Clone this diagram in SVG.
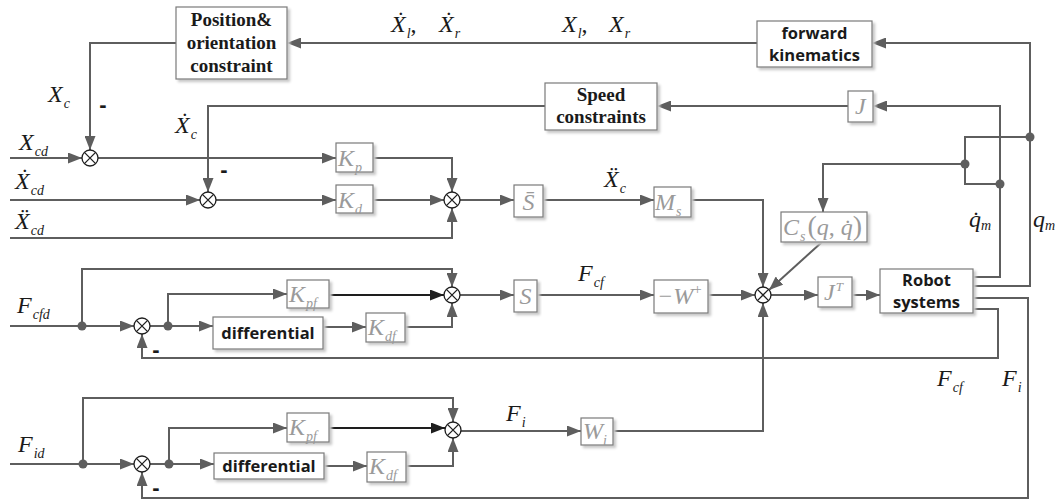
<svg xmlns="http://www.w3.org/2000/svg" width="1063" height="502" viewBox="0 0 1063 502">
  <style>
    .ln{fill:none;stroke:#5e5e5e;stroke-width:2}
    .lk{fill:none;stroke:#1e1e1e;stroke-width:2}
    .box{fill:#fff;stroke:#7a7a7a;stroke-width:1.2;filter:url(#sh)}
    .dot{fill:#5e5e5e}
    .tb{font-family:"Liberation Serif",serif;font-weight:700;font-size:19px;fill:#1a1a1a;text-anchor:middle}
    .ts{font-family:"Open Sans","Noto Sans",sans-serif;font-weight:700;font-size:16.5px;fill:#1a1a1a;text-anchor:middle}
    .m{font-family:"Liberation Serif",serif;font-style:italic;font-size:24px;fill:#1a1a1a}
    .g{font-family:"Liberation Serif",serif;font-style:italic;font-size:24px;fill:#9a9a9a}
    .sb{font-size:14px}
    .mn{font-family:"Liberation Sans",sans-serif;font-weight:700;font-size:22px;fill:#1a1a1a;text-anchor:middle}
  </style>
  <defs>
    <filter id="sh" x="-10%" y="-10%" width="130%" height="140%">
      <feDropShadow dx="2.5" dy="2.5" stdDeviation="0.8" flood-color="#c8c8c8" flood-opacity="1"/>
    </filter>
    <marker id="ar" viewBox="0 0 14 11" refX="14" refY="5.5" markerWidth="14" markerHeight="11" markerUnits="userSpaceOnUse" orient="auto">
      <path d="M0,0 L14,5.5 L0,11 z" fill="#5e5e5e"/>
    </marker>
    <marker id="ak" viewBox="0 0 14 11" refX="14" refY="5.5" markerWidth="14" markerHeight="11" markerUnits="userSpaceOnUse" orient="auto">
      <path d="M0,0 L14,5.5 L0,11 z" fill="#1e1e1e"/>
    </marker>
    <g id="sum">
      <circle r="8" fill="#fff" stroke="#1e1e1e" stroke-width="1.3"/>
      <path d="M-5.6,-5.6 L5.6,5.6 M-5.6,5.6 L5.6,-5.6" stroke="#1e1e1e" stroke-width="1.3"/>
    </g>
  </defs>

  <!-- connectors -->
  <g id="connectors">
    <path class="ln" d="M973,286 H1030 V43 H872" marker-end="url(#ar)"/>
    <path class="ln" d="M757,43 H287" marker-end="url(#ar)"/>
    <path class="ln" d="M176,43 H90 V150" marker-end="url(#ar)"/>
    <path class="ln" d="M10,158 H82" marker-end="url(#ar)"/>
    <path class="ln" d="M98,158 H336" marker-end="url(#ar)"/>
    <path class="ln" d="M373,158 H452 V192" marker-end="url(#ar)"/>
    <path class="ln" d="M973,277 H1000 V106 H873" marker-end="url(#ar)"/>
    <path class="ln" d="M848,106 H657" marker-end="url(#ar)"/>
    <path class="ln" d="M545,106 H208 V192" marker-end="url(#ar)"/>
    <path class="ln" d="M10,200 H200" marker-end="url(#ar)"/>
    <path class="ln" d="M216,200 H336" marker-end="url(#ar)"/>
    <path class="ln" d="M373,200 H444" marker-end="url(#ar)"/>
    <path class="ln" d="M10,238 H452 V208" marker-end="url(#ar)"/>
    <path class="ln" d="M460,200 H514" marker-end="url(#ar)"/>
    <path class="ln" d="M543,200 H654" marker-end="url(#ar)"/>
    <path class="ln" d="M691,200 H763 V287" marker-end="url(#ar)"/>
    <path class="ln" d="M1030,137 H965 V184 H1000"/>
    <path class="ln" d="M965,164 H823 V212" marker-end="url(#ar)"/>
    <path class="ln" d="M822,242 L769,290" marker-end="url(#ar)"/>
    <path class="ln" d="M708,295 H755" marker-end="url(#ar)"/>
    <path class="ln" d="M613,431 H763 V303" marker-end="url(#ar)"/>
    <path class="ln" d="M771,295 H818" marker-end="url(#ar)"/>
    <path class="ln" d="M852,295 H880" marker-end="url(#ar)"/>
    <path class="ln" d="M973,309 H998 V358 H142 V334" marker-end="url(#ar)"/>
    <path class="ln" d="M10,326 H134" marker-end="url(#ar)"/>
    <path class="ln" d="M82,326 V269 H452 V287" marker-end="url(#ar)"/>
    <path class="ln" d="M150,326 H213" marker-end="url(#ar)"/>
    <path class="ln" d="M168,326 V294 H287" marker-end="url(#ar)"/>
    <path class="lk" d="M329,295 H444" marker-end="url(#ak)"/>
    <path class="ln" d="M323,327 H366" marker-end="url(#ar)"/>
    <path class="ln" d="M405,327 H452 V303" marker-end="url(#ar)"/>
    <path class="ln" d="M460,295 H514" marker-end="url(#ar)"/>
    <path class="ln" d="M537,295 H654" marker-end="url(#ar)"/>
    <path class="ln" d="M973,298 H1028 V498 H142 V472" marker-end="url(#ar)"/>
    <path class="ln" d="M10,464 H134" marker-end="url(#ar)"/>
    <path class="ln" d="M83,464 V398 H453 V422" marker-end="url(#ar)"/>
    <path class="ln" d="M150,464 H214" marker-end="url(#ar)"/>
    <path class="ln" d="M169,464 V428 H287" marker-end="url(#ar)"/>
    <path class="lk" d="M329,428 H445" marker-end="url(#ak)"/>
    <path class="ln" d="M324,466 H367" marker-end="url(#ar)"/>
    <path class="ln" d="M406,466 H453 V438" marker-end="url(#ar)"/>
    <path class="ln" d="M461,431 H581" marker-end="url(#ar)"/>
    <!-- branch points -->
    <circle class="dot" cx="1030" cy="137" r="4.5"/>
    <circle class="dot" cx="965" cy="164" r="4.5"/>
    <circle class="dot" cx="1000" cy="184" r="4.5"/>
    <circle class="dot" cx="82" cy="326" r="4.5"/>
    <circle class="dot" cx="168" cy="326" r="4.5"/>
    <circle class="dot" cx="83" cy="464" r="4.5"/>
    <circle class="dot" cx="169" cy="464" r="4.5"/>
  </g>

  <!-- summing junctions -->
  <g id="sum-xc"><use href="#sum" x="90" y="158"/></g>
  <g id="sum-vc"><use href="#sum" x="208" y="200"/></g>
  <g id="sum-acc"><use href="#sum" x="452" y="200"/></g>
  <g id="sum-main"><use href="#sum" x="763" y="295"/></g>
  <g id="sum-fcfd"><use href="#sum" x="142" y="326"/></g>
  <g id="sum-fcf"><use href="#sum" x="452" y="295"/></g>
  <g id="sum-fid"><use href="#sum" x="142" y="464"/></g>
  <g id="sum-fi"><use href="#sum" x="453" y="430"/></g>

  <!-- blocks -->
  <g id="pos-orient">
    <rect class="box" x="176" y="7" width="111" height="72"/>
    <text class="tb" x="231.5" y="26">Position&amp;</text>
    <text class="tb" x="231.5" y="49">orientation</text>
    <text class="tb" x="231.5" y="72">constraint</text>
  </g>
  <g id="fwd-kin">
    <rect class="box" x="757" y="21" width="115" height="46"/>
    <text class="ts" x="814.5" y="39">forward</text>
    <text class="ts" x="814.5" y="61">kinematics</text>
  </g>
  <g id="speed">
    <rect class="box" x="545" y="83" width="112" height="47"/>
    <text class="tb" x="601" y="101">Speed</text>
    <text class="tb" x="601" y="123">constraints</text>
  </g>
  <g id="jac">
    <rect class="box" x="848" y="91" width="25" height="31"/>
    <text class="g" x="855" y="114">J</text>
  </g>
  <g id="kp">
    <rect class="box" x="336" y="143" width="37" height="29"/>
    <text class="g" x="338" y="166">K<tspan class="sb" dx="1" dy="6">p</tspan></text>
  </g>
  <g id="kd">
    <rect class="box" x="336" y="185" width="37" height="28"/>
    <text class="g" x="338" y="208">K<tspan class="sb" dx="1" dy="6">d</tspan></text>
  </g>
  <g id="sbar">
    <rect class="box" x="514" y="185" width="29" height="32"/>
    <text class="g" x="528.5" y="210" font-style="normal" text-anchor="middle">S̄</text>
  </g>
  <g id="ms">
    <rect class="box" x="654" y="187" width="37" height="30"/>
    <text class="g" x="655" y="210">M<tspan class="sb" dx="1" dy="6">s</tspan></text>
  </g>
  <g id="cs">
    <rect class="box" x="781" y="212" width="86" height="30"/>
    <text class="g" x="783" y="235">C<tspan class="sb" dx="1" dy="6">s</tspan><tspan dx="2" dy="-6" font-style="normal" font-size="28">(</tspan>q<tspan font-style="normal">, </tspan>q̇<tspan font-style="normal" font-size="28">)</tspan></text>
  </g>
  <g id="kpf1">
    <rect class="box" x="287" y="280" width="42" height="28"/>
    <text class="g" x="289" y="302">K<tspan class="sb" dx="1" dy="6">pf</tspan></text>
  </g>
  <g id="diff1">
    <rect class="box" x="213" y="317" width="110" height="32"/>
    <text class="ts" x="268" y="339">differential</text>
  </g>
  <g id="kdf1">
    <rect class="box" x="366" y="313" width="39" height="29"/>
    <text class="g" x="368" y="335">K<tspan class="sb" dx="1" dy="6">df</tspan></text>
  </g>
  <g id="s">
    <rect class="box" x="514" y="280" width="23" height="32"/>
    <text class="g" x="525.5" y="304" font-style="normal" text-anchor="middle">S</text>
  </g>
  <g id="wplus">
    <rect class="box" x="654" y="280" width="54" height="33"/>
    <text class="g" x="657" y="304">−W<tspan font-size="15" dy="-10" font-style="normal">+</tspan></text>
  </g>
  <g id="jt">
    <rect class="box" x="818" y="277" width="34" height="30"/>
    <text class="g" x="824" y="300">J<tspan font-size="13" dx="1" dy="-9">T</tspan></text>
  </g>
  <g id="robot">
    <rect class="box" x="880" y="269" width="93" height="44"/>
    <text class="ts" x="926.5" y="286">Robot</text>
    <text class="ts" x="926.5" y="308">systems</text>
  </g>
  <g id="kpf2">
    <rect class="box" x="287" y="413" width="42" height="29"/>
    <text class="g" x="289" y="435">K<tspan class="sb" dx="1" dy="6">pf</tspan></text>
  </g>
  <g id="diff2">
    <rect class="box" x="214" y="453" width="110" height="26"/>
    <text class="ts" x="269" y="472">differential</text>
  </g>
  <g id="kdf2">
    <rect class="box" x="367" y="452" width="39" height="30"/>
    <text class="g" x="369" y="474">K<tspan class="sb" dx="1" dy="6">df</tspan></text>
  </g>
  <g id="wi">
    <rect class="box" x="581" y="418" width="32" height="27"/>
    <text class="g" x="583" y="439">W<tspan class="sb" dy="6">i</tspan></text>
  </g>

  <!-- signal labels -->
  <g id="labels">
    <text class="m" x="48" y="102">X<tspan class="sb" dx="1" dy="6">c</tspan></text>
    <text class="m" x="19" y="150">X<tspan class="sb" dx="1" dy="6">cd</tspan></text>
    <text class="m" x="175" y="133">Ẋ<tspan class="sb" dx="1" dy="6">c</tspan></text>
    <text class="m" x="15" y="189">Ẋ<tspan class="sb" dx="1" dy="6">cd</tspan></text>
    <text class="m" x="15" y="229">Ẍ<tspan class="sb" dx="1" dy="6">cd</tspan></text>
    <text class="m" x="17" y="313">F<tspan class="sb" dx="1" dy="6">cfd</tspan></text>
    <text class="m" x="18" y="452">F<tspan class="sb" dx="1" dy="6">id</tspan></text>
    <text class="m" x="391" y="32">Ẋ<tspan class="sb" dx="1" dy="6">l</tspan><tspan dy="-6" font-style="normal">,</tspan></text>
    <text class="m" x="439" y="32">Ẋ<tspan class="sb" dx="1" dy="6">r</tspan></text>
    <text class="m" x="562" y="32">X<tspan class="sb" dx="1" dy="6">l</tspan><tspan dy="-6" font-style="normal">,</tspan></text>
    <text class="m" x="609" y="32">X<tspan class="sb" dx="1" dy="6">r</tspan></text>
    <text class="m" x="604" y="187">Ẍ<tspan class="sb" dx="1" dy="6">c</tspan></text>
    <text class="m" x="578" y="281">F<tspan class="sb" dx="1" dy="6">cf</tspan></text>
    <text class="m" x="506" y="421">F<tspan class="sb" dx="1" dy="6">i</tspan></text>
    <text class="m" x="969" y="227">q̇<tspan class="sb" dy="3">m</tspan></text>
    <text class="m" x="1033" y="227">q<tspan class="sb" dy="3">m</tspan></text>
    <text class="m" x="937" y="386">F<tspan class="sb" dx="1" dy="6">cf</tspan></text>
    <text class="m" x="1002" y="386">F<tspan class="sb" dx="1" dy="6">i</tspan></text>
    <text class="mn" x="103" y="112">-</text>
    <text class="mn" x="224" y="177">-</text>
    <text class="mn" x="156" y="357">-</text>
    <text class="mn" x="156" y="495">-</text>
  </g>
</svg>
